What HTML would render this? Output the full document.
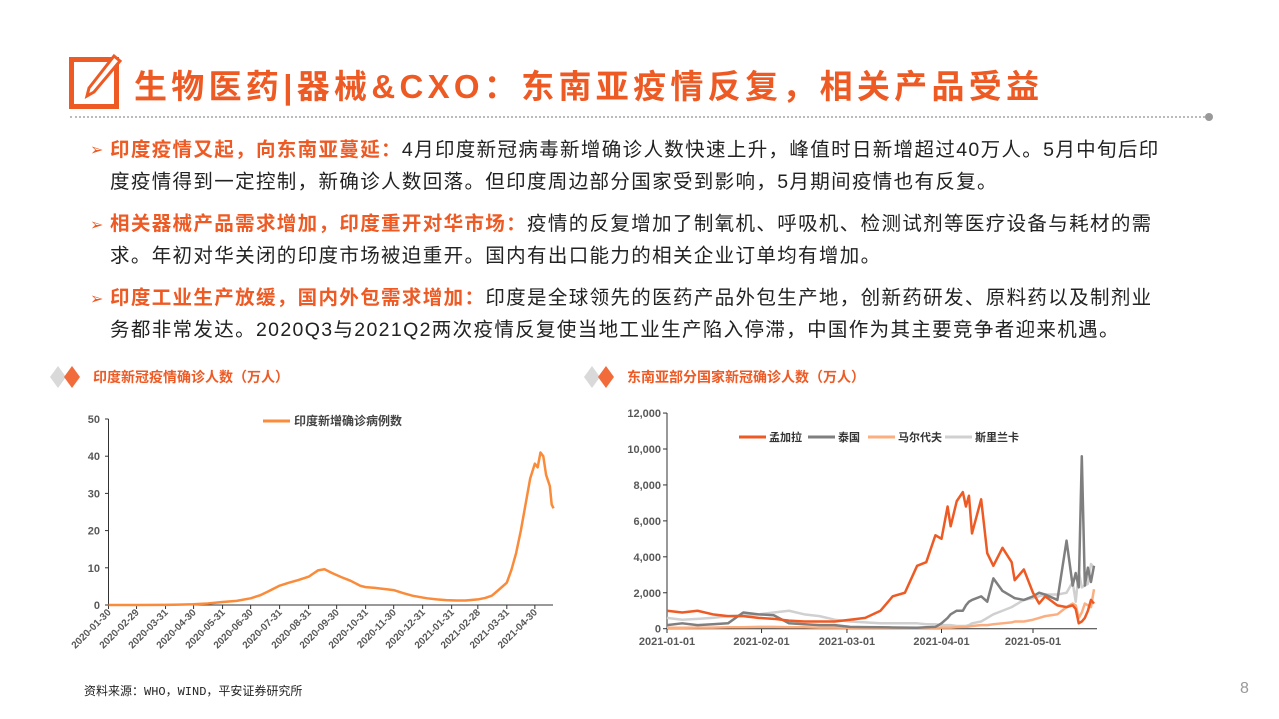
<!DOCTYPE html>
<html><head><meta charset="utf-8">
<style>
body{margin:0;width:1279px;height:719px;overflow:hidden;background:#fff;font-family:"Liberation Sans","Noto Sans CJK SC",sans-serif;position:relative}
.title{position:absolute;left:134px;top:60px;font-size:33px;font-weight:bold;color:#ee5a24;letter-spacing:4.3px;font-family:"Liberation Sans","Noto Sans CJK SC",sans-serif;white-space:nowrap}
.para{position:absolute;left:110px;width:1076px;font-size:19.5px;letter-spacing:1.35px;line-height:32px;color:#222;}
.para b{color:#ee5a24}
.bul{position:absolute;left:90px;color:#ee5a24;font-size:16px}
.ct{position:absolute;top:367px;font-size:14px;font-weight:bold;color:#ee5a24}
</style></head><body>
<div style="position:absolute;left:69px;top:57px;width:40px;height:42px;border:5px solid #ee5a24;"></div>
<svg style="position:absolute;left:80px;top:52px" width="42" height="48"><path d="M34 4 L40 9 L14 40 L7 44 L9 36 Z" fill="#fff" stroke="#ee5a24" stroke-width="3"/></svg>
<div class="title">生物医药|器械&amp;CXO：东南亚疫情反复，相关产品受益</div>
<div style="position:absolute;left:70px;top:116px;width:1135px;border-top:2px dotted #bbb"></div>
<div style="position:absolute;left:1205px;top:113px;width:8px;height:8px;border-radius:50%;background:#999"></div>

<div class="bul" style="top:140px">➢</div>
<div class="para" style="top:134px"><b>印度疫情又起，向东南亚蔓延：</b>4月印度新冠病毒新增确诊人数快速上升，峰值时日新增超过40万人。5月中旬后印<br>度疫情得到一定控制，新确诊人数回落。但印度周边部分国家受到影响，5月期间疫情也有反复。</div>
<div class="bul" style="top:215px">➢</div>
<div class="para" style="top:208px"><b>相关器械产品需求增加，印度重开对华市场：</b>疫情的反复增加了制氧机、呼吸机、检测试剂等医疗设备与耗材的需<br>求。年初对华关闭的印度市场被迫重开。国内有出口能力的相关企业订单均有增加。</div>
<div class="bul" style="top:289px">➢</div>
<div class="para" style="top:282px"><b>印度工业生产放缓，国内外包需求增加：</b>印度是全球领先的医药产品外包生产地，创新药研发、原料药以及制剂业<br>务都非常发达。2020Q3与2021Q2两次疫情反复使当地工业生产陷入停滞，中国作为其主要竞争者迎来机遇。</div>

<svg style="position:absolute;left:48px;top:364px" width="40" height="26"><path d="M10 2 L18 13 L10 24 L2 13Z" fill="#d9d9d9"/><path d="M24 2 L32 13 L24 24 L16 13Z" fill="#f26b3a"/></svg>
<div class="ct" style="left:93px">印度新冠疫情确诊人数（万人）</div>
<svg style="position:absolute;left:582px;top:364px" width="40" height="26"><path d="M10 2 L18 13 L10 24 L2 13Z" fill="#d9d9d9"/><path d="M24 2 L32 13 L24 24 L16 13Z" fill="#f26b3a"/></svg>
<div class="ct" style="left:627px">东南亚部分国家新冠确诊人数（万人）</div>

<svg id="left" style="position:absolute;left:0;top:0" width="1279" height="719"></svg>

<div style="position:absolute;left:84px;top:682px;font-size:12px;color:#222;font-family:'Liberation Mono','Noto Sans CJK SC',monospace">资料来源：WHO，WIND，平安证券研究所</div>
<div style="position:absolute;left:1240px;top:680px;font-size:16px;color:#999">8</div>

<script>
const indiaDates=["2020-01-30","2020-03-01","2020-03-31","2020-04-15","2020-04-30","2020-05-15","2020-05-31","2020-06-15","2020-06-30","2020-07-10","2020-07-20","2020-07-31","2020-08-10","2020-08-20","2020-08-31","2020-09-10","2020-09-17","2020-09-25","2020-10-05","2020-10-15","2020-10-25","2020-10-31","2020-11-10","2020-11-20","2020-11-30","2020-12-10","2020-12-20","2020-12-31","2021-01-05","2021-01-15","2021-01-25","2021-02-05","2021-02-15","2021-02-28","2021-03-08","2021-03-15","2021-03-22","2021-03-31","2021-04-05","2021-04-10","2021-04-15","2021-04-20","2021-04-25","2021-04-30","2021-05-03","2021-05-06","2021-05-09","2021-05-12","2021-05-16","2021-05-18","2021-05-20"];
const indiaValues=[0,0,0.05,0.1,0.2,0.4,0.8,1.1,1.8,2.6,3.8,5.2,6.0,6.7,7.6,9.3,9.6,8.6,7.5,6.5,5.2,4.8,4.6,4.3,4.0,3.2,2.5,2.0,1.8,1.5,1.3,1.2,1.2,1.5,1.9,2.5,4.0,6.0,9.5,14,20,27,34,38,37,41,40,35,32,27,26];
const indiaTicks=["2020-01-30","2020-02-29","2020-03-31","2020-04-30","2020-05-31","2020-06-30","2020-07-31","2020-08-31","2020-09-30","2020-10-31","2020-11-30","2020-12-31","2021-01-31","2021-02-28","2021-03-31","2021-04-30"];
const indiaYTicks=[0,10,20,30,40,50];

const seaDays=[0,5,10,15,20,25,30,35,40,45,50,55,60,65,70,74,78,82,85,88,90,92,93,95,97,98,99,100,103,105,107,110,113,114,117,120,122,124,128,131,133,134,135,136,137,138,139,140];
const bangladesh=[1000,900,1000,800,700,700,600,550,450,400,400,400,500,600,1000,1800,2000,3500,3700,5200,5000,6800,5700,7100,7600,6800,7400,5300,7200,4200,3500,4500,3700,2700,3300,2000,1400,1800,1300,1200,1300,1100,300,400,600,1000,1600,1400];
const thailand=[200,300,200,250,300,900,800,750,300,250,200,200,100,90,80,70,60,50,80,100,300,600,800,1000,1000,1300,1500,1600,1800,1500,2800,2100,1800,1700,1600,1800,2000,1900,1600,4900,2400,3100,2300,9600,2400,3400,2600,3500];
const maldives=[50,50,60,60,80,80,100,100,80,80,60,60,50,50,50,50,50,50,50,50,60,60,60,80,100,100,120,150,200,200,250,300,350,400,400,500,600,700,800,1200,1400,1300,600,900,1400,1300,1200,2200];
const srilanka=[600,500,550,600,700,750,800,900,1000,800,700,500,400,350,300,300,300,300,250,250,200,200,200,150,150,150,200,300,400,600,800,1000,1200,1300,1600,1700,1800,1900,1900,2000,2600,1500,3200,2300,2400,2500,3600,3400];
const seaTicks=["2021-01-01","2021-02-01","2021-03-01","2021-04-01","2021-05-01"];
const seaYTicks=[0,2000,4000,6000,8000,10000,12000];
const seaNames=["孟加拉","泰国","马尔代夫","斯里兰卡"];

const NS="http://www.w3.org/2000/svg";
const svg=document.getElementById('left');
function mk(t,a,txt){const e=document.createElementNS(NS,t);for(const k in a)e.setAttribute(k,a[k]);if(txt!==undefined)e.textContent=txt;svg.appendChild(e);return e;}
const day=s=>Date.parse(s+"T00:00:00Z")/86400000;
const d0=day("2020-01-30");
const lx=d=>108.5+(day(d)-d0)*0.935;
const ly=v=>605-v*3.72;
let e=mk('line',{x1:108.5,y1:419,x2:108.5,y2:605,stroke:'#333','stroke-width':1});

e=mk('line',{x1:108.5,y1:605,x2:553,y2:605,stroke:'#333','stroke-width':1});

indiaYTicks.forEach(v=>{
 e=mk('line',{x1:105,x2:108.5,y1:ly(v),y2:ly(v),stroke:'#333'});
 
 e=mk('text',{x:100,y:ly(v)+4,'text-anchor':'end','font-size':11,'font-weight':'bold',fill:'#595959'},v);
 
});
indiaTicks.forEach(t=>{
 const x=lx(t);
 e=mk('line',{x1:x,x2:x,y1:605,y2:609,stroke:'#333'});
 
 e=mk('text',{x:x+3,y:613,'text-anchor':'end','font-size':10,'font-weight':'bold',fill:'#595959',transform:`rotate(-45 ${x+3} 613)`},t);
 
});
e=mk('polyline',{points:indiaDates.map((d,i)=>lx(d)+','+ly(indiaValues[i])).join(' '),fill:'none',stroke:'#f98b3a','stroke-width':2.5,'stroke-linejoin':'round'});

e=mk('line',{x1:263,x2:290,y1:421,y2:421,stroke:'#f98b3a','stroke-width':3});

e=mk('text',{x:294,y:425,'font-size':12,'font-weight':'bold',fill:'#444'},'印度新增确诊病例数');


const s0=day("2021-01-01");
const rx=d=>667+d*3.05;
const ry=v=>628.7-v*0.01797;
e=mk('line',{x1:667,y1:413,x2:667,y2:628.7,stroke:'#333'});

e=mk('line',{x1:667,y1:628.7,x2:1097,y2:628.7,stroke:'#333'});

seaYTicks.forEach(v=>{
 e=mk('line',{x1:663,x2:667,y1:ry(v),y2:ry(v),stroke:'#333'});
 
 e=mk('text',{x:661,y:ry(v)+4,'text-anchor':'end','font-size':11,'font-weight':'bold',fill:'#595959'},v.toLocaleString('en-US'));
 
});
seaTicks.forEach(t=>{
 const x=rx(day(t)-s0);
 e=mk('line',{x1:x,x2:x,y1:628.7,y2:633,stroke:'#333'});
 
 e=mk('text',{x:x,y:645,'text-anchor':'middle','font-size':11,'font-weight':'bold',fill:'#595959'},t);
 
});
const series=[[srilanka,'#d0d0d0','srilanka'],[maldives,'#fbae80','maldives'],[thailand,'#7f7f7f','thailand'],[bangladesh,'#ee5a24','bangladesh']];
series.forEach(([vals,c,n])=>{
 e=mk('polyline',{points:seaDays.map((d,i)=>rx(d)+','+ry(vals[i])).join(' '),fill:'none',stroke:c,'stroke-width':2.5,'stroke-linejoin':'round'});
 
});
const legC=['#ee5a24','#7f7f7f','#fbae80','#d0d0d0'];
const legX=[739,808,868,945];
seaNames.forEach((nm,i)=>{
 e=mk('line',{x1:legX[i],x2:legX[i]+27,y1:437,y2:437,stroke:legC[i],'stroke-width':3});
 
 e=mk('text',{x:legX[i]+30,y:441,'font-size':11,'font-weight':'bold',fill:'#333'},nm);
 
});
</script>
</body></html>
